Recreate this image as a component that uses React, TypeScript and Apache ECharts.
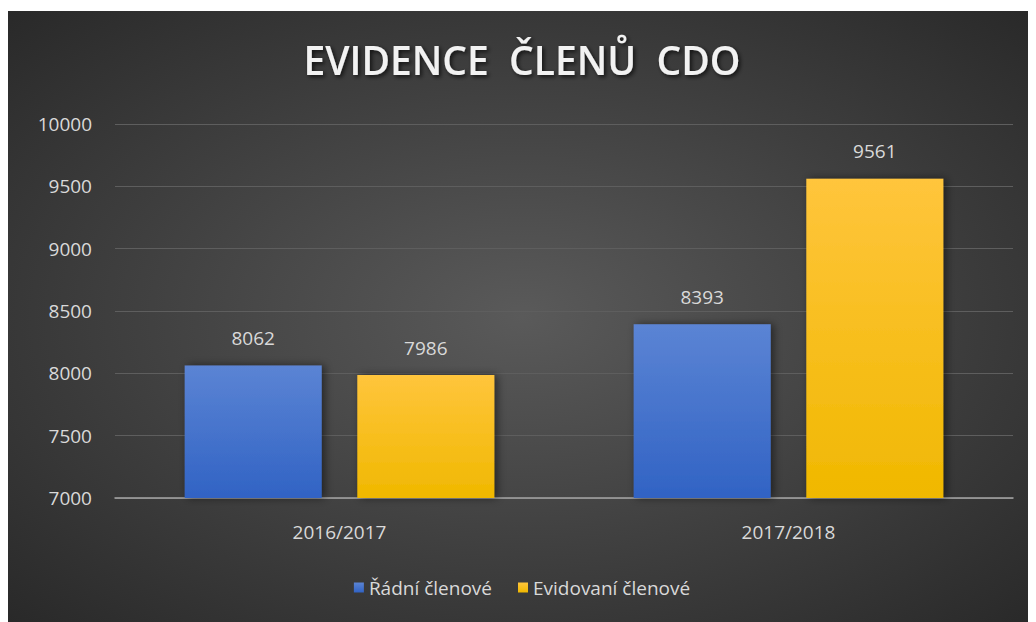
import React, { useEffect, useRef } from "react";
import * as echarts from "echarts";

const categories = ["2016/2017", "2017/2018"];
const radni = [8062, 8393];
const evidovani = [7986, 9561];
const seriesNames = ["Řádní členové", "Evidovaní členové"];
const titleText = "EVIDENCE  ČLENŮ  CDO";

const FONT = "'Open Sans', 'Noto Sans', sans-serif";
const TXT = "#d9d9d9";

export default function App() {
  const ref = useRef<HTMLDivElement>(null);
  useEffect(() => {
    if (!ref.current) return;
    const chart = echarts.init(ref.current, undefined, { renderer: "svg" });
    chart.setOption({
      animation: false,
      backgroundColor: {
        type: "radial",
        x: 0.5,
        y: 0.5,
        r: 0.75,
        colorStops: [
          { offset: 0, color: "#5a5a5a" },
          { offset: 1, color: "#262626" },
        ],
      },
      title: {
        text: titleText,
        left: "center",
        top: 24,
        textStyle: {
          color: "#f2f2f2",
          fontFamily: FONT,
          fontWeight: 600,
          fontSize: 39,
          textShadowColor: "rgba(0,0,0,0.7)",
          textShadowBlur: 4,
          textShadowOffsetX: 2,
          textShadowOffsetY: 2,
        },
      },
      legend: {
        bottom: 20,
        left: "center",
        itemWidth: 10,
        itemHeight: 10,
        itemGap: 26,
        icon: "rect",
        textStyle: { color: TXT, fontFamily: FONT, fontSize: 19 },
        data: seriesNames,
      },
      grid: { left: 107, right: 23, top: 113, bottom: 124, containLabel: false },
      xAxis: {
        type: "category",
        data: categories,
        axisTick: { show: false },
        axisLine: { lineStyle: { color: "#a6a6a6", width: 1.5 } },
        axisLabel: { color: TXT, fontFamily: FONT, fontSize: 19, margin: 24 },
      },
      yAxis: {
        type: "value",
        min: 7000,
        max: 10000,
        interval: 500,
        axisLine: { show: false },
        axisTick: { show: false },
        axisLabel: {
          color: TXT,
          fontFamily: FONT,
          fontSize: 19,
          margin: 23,
          formatter: (v: number) => String(v),
        },
        splitLine: { lineStyle: { color: "#5e5e5e", width: 1 } },
      },
      series: [
        {
          name: seriesNames[0],
          type: "bar",
          data: radni,
          barWidth: 137,
          barGap: "26%",
          itemStyle: {
            color: {
              type: "linear",
              x: 0,
              y: 0,
              x2: 0,
              y2: 1,
              colorStops: [
                { offset: 0, color: "#5b84d4" },
                { offset: 1, color: "#3163c4" },
              ],
            },
            shadowColor: "rgba(0,0,0,0.5)",
            shadowBlur: 8,
            shadowOffsetX: 3,
            shadowOffsetY: 0,
          },
          label: {
            show: true,
            position: "top",
            distance: 18,
            color: TXT,
            fontFamily: FONT,
            fontSize: 19,
          },
        },
        {
          name: seriesNames[1],
          type: "bar",
          data: evidovani,
          barWidth: 137,
          itemStyle: {
            color: {
              type: "linear",
              x: 0,
              y: 0,
              x2: 0,
              y2: 1,
              colorStops: [
                { offset: 0, color: "#ffc53c" },
                { offset: 1, color: "#f0b800" },
              ],
            },
            shadowColor: "rgba(0,0,0,0.5)",
            shadowBlur: 8,
            shadowOffsetX: 3,
            shadowOffsetY: 0,
          },
          label: {
            show: true,
            position: "top",
            distance: 18,
            color: TXT,
            fontFamily: FONT,
            fontSize: 19,
          },
        },
      ],
    });
    return () => chart.dispose();
  }, []);
  return (
    <div
      ref={ref}
      style={{ width: 1028, height: 611, marginTop: 3 }}
    />
  );
}
